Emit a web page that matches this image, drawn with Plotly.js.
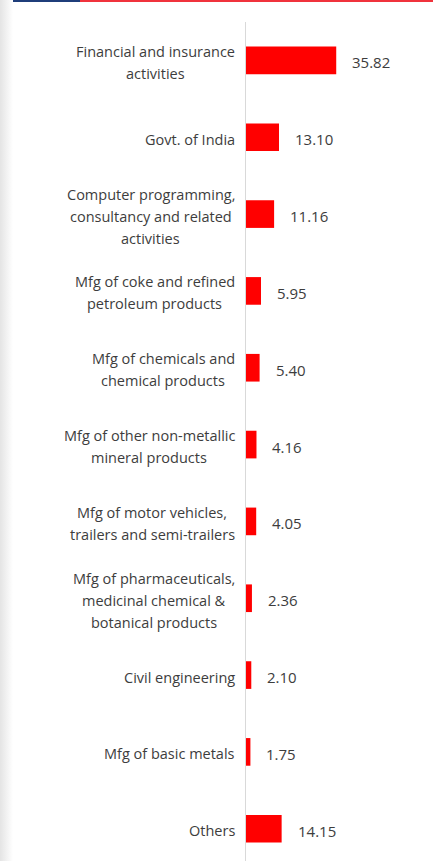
<!DOCTYPE html>
<html>
<head>
<meta charset="utf-8">
<script src="https://cdn.plot.ly/plotly-3.0.1.min.js"></script>
<style>
  html, body { margin: 0; padding: 0; background: #fff; width: 445px; height: 861px; overflow: hidden; }
  #chart { position: absolute; left: 0; top: 0; width: 445px; height: 861px; }
  #shadow { position: absolute; left: 0; top: 0; width: 13px; height: 861px; background: linear-gradient(to right, #e4e4e4, #ffffff); z-index: 2; pointer-events: none; }
  #topblue { position: absolute; left: 13px; top: 0; width: 67px; height: 2px; background: #1f3d7a; z-index: 3; }
  #topred { position: absolute; left: 80px; top: 0; width: 353px; height: 2px; background: #f0333c; z-index: 3; }
</style>
</head>
<body>
<div id="chart"></div>
<div id="shadow"></div>
<div id="topblue"></div>
<div id="topred"></div>
<script>
const categories = [
  "Financial and insurance activities",
  "Govt. of India",
  "Computer programming, consultancy and related activities",
  "Mfg of coke and refined petroleum products",
  "Mfg of chemicals and chemical products",
  "Mfg of other non-metallic mineral products",
  "Mfg of motor vehicles, trailers and semi-trailers",
  "Mfg of pharmaceuticals, medicinal chemical & botanical products",
  "Civil engineering",
  "Mfg of basic metals",
  "Others"
];
const labelLines = [
  ["Financial and insurance", "activities"],
  ["Govt. of India"],
  ["Computer programming,", "consultancy and related", "activities"],
  ["Mfg of coke and refined", "petroleum products"],
  ["Mfg of chemicals and", "chemical products"],
  ["Mfg of other non-metallic", "mineral products"],
  ["Mfg of motor vehicles,", "trailers and semi-trailers"],
  ["Mfg of pharmaceuticals,", "medicinal chemical &", "botanical products"],
  ["Civil engineering"],
  ["Mfg of basic metals"],
  ["Others"]
];
const values = [35.82, 13.10, 11.16, 5.95, 5.40, 4.16, 4.05, 2.36, 2.10, 1.75, 14.15];

const textColor = "#3d3d3d";
const fontFam = "'Open Sans', 'Noto Sans', sans-serif";
const labelSize = 14.5;
const valueSize = 15;
const lineGap = 22;

const canvas = document.createElement("canvas");
const ctx = canvas.getContext("2d");
ctx.font = labelSize + "px 'Open Sans'";

const trace = {
  type: "bar",
  orientation: "h",
  x: values,
  y: categories,
  width: 0.36,
  marker: { color: "#ff0000", line: { width: 0 } },
  hoverinfo: "none"
};

const annotations = [];
categories.forEach((c, i) => {
  const lines = labelLines[i];
  const maxW = Math.max(...lines.map(s => ctx.measureText(s).width));
  const n = lines.length;
  lines.forEach((s, k) => {
    annotations.push({
      x: 0, y: c, xref: "x", yref: "y",
      text: s, showarrow: false,
      xanchor: "center", yanchor: "middle",
      xshift: -(11 + maxW / 2),
      yshift: ((n - 1) / 2 - k) * lineGap - 2,
      font: { family: fontFam, size: labelSize, color: textColor }
    });
  });
  annotations.push({
    x: values[i], y: c, xref: "x", yref: "y",
    text: values[i].toFixed(2), showarrow: false,
    xanchor: "left", yanchor: "middle", align: "left",
    xshift: 14, yshift: -2,
    font: { family: fontFam, size: valueSize, color: textColor }
  });
});

const layout = {
  width: 445, height: 861,
  margin: { l: 246, r: 0, t: 22, b: 0, pad: 0 },
  paper_bgcolor: "#ffffff",
  plot_bgcolor: "#ffffff",
  showlegend: false,
  xaxis: {
    range: [0, 79], showgrid: false, zeroline: false, showline: false,
    showticklabels: false, ticks: "", fixedrange: true
  },
  yaxis: {
    type: "category", range: [10.42, -0.5],
    showgrid: false, zeroline: false,
    showline: true, linecolor: "#d9d9d9", linewidth: 1.5,
    showticklabels: false, ticks: "", fixedrange: true
  },
  annotations: annotations
};

Plotly.newPlot("chart", [trace], layout, { displayModeBar: false, staticPlot: true });
</script>
</body>
</html>
